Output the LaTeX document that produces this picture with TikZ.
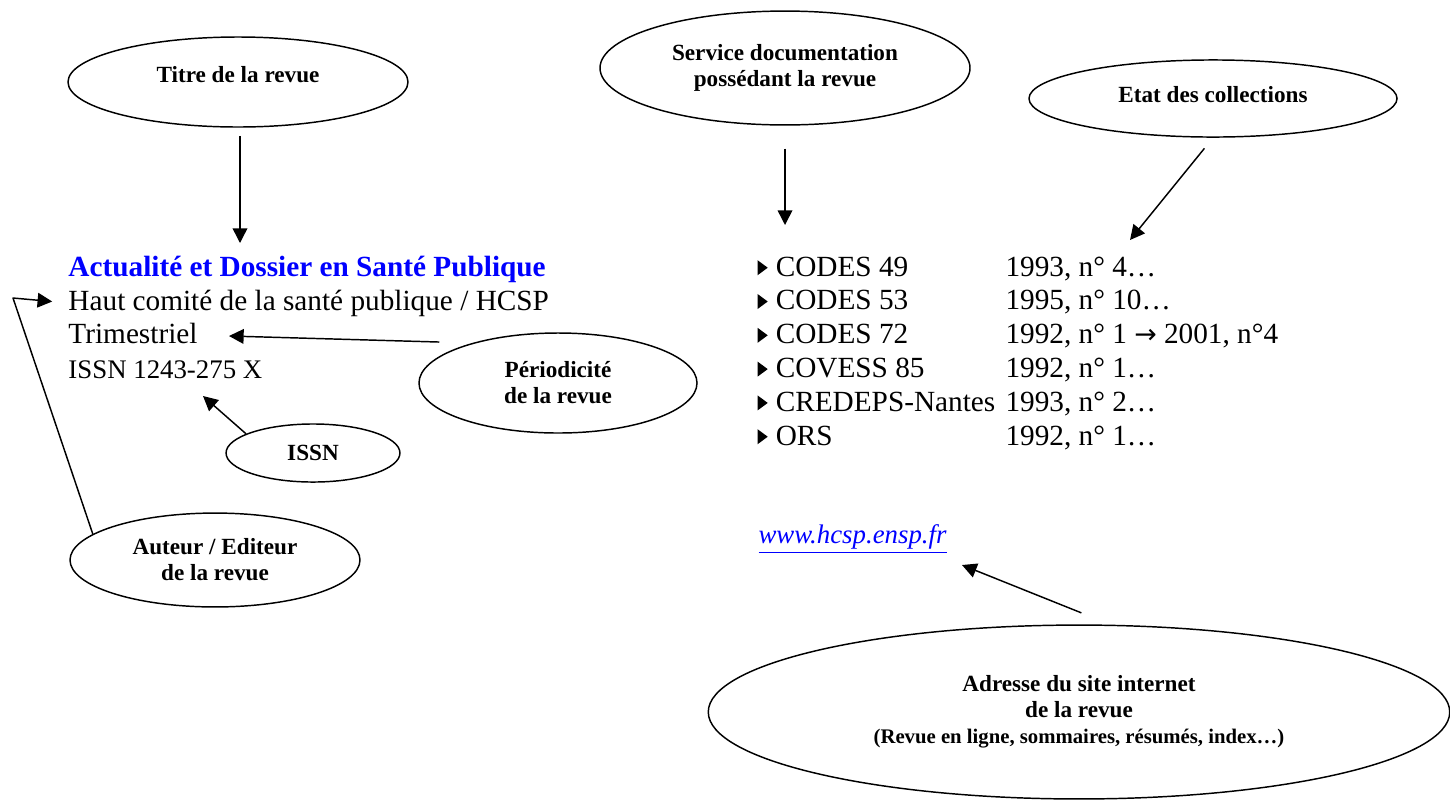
\documentclass[tikz,border=0pt]{standalone}
\usepackage{fontspec}
\setmainfont{Liberation Serif}
\newfontfamily\symb{DejaVu Sans}
\usetikzlibrary{shapes.geometric,arrows.meta}
\definecolor{bleu}{RGB}{0,0,255}
\newcommand\puce{\tikz[baseline=0pt]\fill (0,0.3pt) -- (0,6.5pt) -- (4.2pt,3.4pt) -- cycle;}
\tikzset{
  bulle/.style={ellipse, draw, line width=0.6pt, inner sep=0pt, align=center, font=\bfseries\fontsize{9.5}{10.6}\selectfont},
  texte/.style={anchor=base west, inner sep=0pt, font=\fontsize{12}{14}\selectfont},
  fleche/.style={-{Triangle[length=6pt,width=6pt]}, line width=0.6pt}
}
\begin{document}
\begin{tikzpicture}[x=0.41pt, y=-0.41pt, line join=round]
\useasboundingbox (0,0) rectangle (1450,800);
% notice de la revue
\node[texte, font=\bfseries\fontsize{12}{14}\selectfont, text=bleu] (titre) at (68,276) {Actualité et Dossier en Santé Publique};
\node[texte] (editeur) at (68,310) {Haut comité de la santé publique / HCSP};
\node[texte] (period) at (68,343) {Trimestriel};
\node[texte, font=\fontsize{11}{13}\selectfont] (issn) at (68,378) {ISSN 1243-275 X};
% centres de documentation
\foreach \nom/\dat [count=\i] in {CODES 49/{1993, n° 4…}, CODES 53/{1995, n° 10…}, CODES 72/{1992, n° 1 {\symb\fontsize{11}{13}\selectfont →} 2001, n°4}, COVESS 85/{1992, n° 1…}, CREDEPS-Nantes/{1993, n° 2…}, ORS/{1992, n° 1…}}{
  \pgfmathsetmacro\yy{276+(\i-1)*33.8}
  \node[texte] (org\i) at (757,\yy) {\puce\hspace{3.3pt}\nom};
  \node[texte] (coll\i) at (1005,\yy) {\dat};
}
\node[texte, font=\itshape\fontsize{11}{13}\selectfont, text=bleu] (site) at (758,543) {\underline{www.hcsp.ensp.fr}};
% bulles
\node[bulle, minimum width=139.4pt, minimum height=36.9pt] (b-titre) at (238,82) {\raisebox{6pt}{Titre de la revue}};
\node[bulle, minimum width=151.7pt, minimum height=46.7pt] (b-serv) at (785,68) {\raisebox{5pt}{\begin{tabular}{@{}c@{}}Service documentation\\possédant la revue\end{tabular}}};
\node[bulle, minimum width=150.9pt, minimum height=31.6pt] (b-etat) at (1213,98.5) {\raisebox{3.7pt}{Etat des collections}};
\node[bulle, minimum width=114pt, minimum height=41pt] (b-peri) at (558,383) {Périodicité\\de la revue};
\node[bulle, minimum width=71.3pt, minimum height=23.8pt] (b-issn) at (313,453) {ISSN};
\node[bulle, minimum width=118.9pt, minimum height=38.5pt] (b-editeur) at (215,560) {Auteur / Editeur\\de la revue};
\node[bulle, minimum width=304pt, minimum height=71.3pt] (b-adr) at (1079,712) {Adresse du site internet\\de la revue\\{\fontsize{8.5}{10}\selectfont (Revue en ligne, sommaires, résumés, index…)}};
% fleches
\coordinate (p-titre) at (240,243);
\coordinate (p-serv) at (785,225);
\coordinate (p-etat) at (1130,240);
\coordinate (p-peri) at (229,336);
\coordinate (p-issn) at (203,396);
\coordinate (coin) at (13,298);
\coordinate (p-site) at (962,565);
\draw[fleche, shorten <=3.3pt] (b-titre.south -| p-titre) -- (p-titre);
\draw[fleche, shorten <=9.4pt] (b-serv) -- (p-serv);
\draw[fleche, shorten <=5.6pt] (b-etat.south) -- (p-etat);
\draw[fleche, shorten <=13.5pt] (b-peri.155) -- (p-peri);
\draw[fleche] (b-issn.164) -- (p-issn);
\draw[fleche, shorten >=6.5pt] (b-editeur.168) -- (coin) -- (editeur.west);
\draw[fleche, shorten <=13pt] (b-adr.70) -- (p-site);
\end{tikzpicture}
\end{document}
